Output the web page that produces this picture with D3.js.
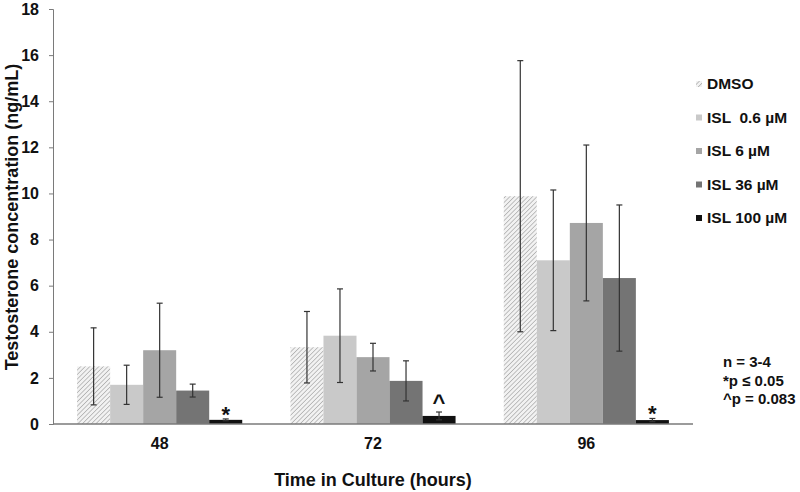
<!DOCTYPE html>
<html lang="en">
<head>
<meta charset="UTF-8">
<title>Testosterone concentration</title>
<script src="https://cdn.jsdelivr.net/npm/d3@7/dist/d3.min.js"></script>
<style>
    body { margin: 0; background: #fff; }
    text { font-family: "Liberation Sans", Arial, sans-serif; font-weight: bold; fill: #111; }
    .axis path, .axis line { stroke: #7a7a7a; }
</style>
</head>
<body>
<div id="diagram"></div>
<script>
var hours = ["48", "72", "96"];
var series = ["DMSO", "ISL  0.6 \u00b5M", "ISL 6 \u00b5M", "ISL 36 \u00b5M", "ISL 100 \u00b5M"];
var dmso   = [2.5, 3.33, 9.88];
var isl06  = [1.7, 3.83, 7.1];
var isl6   = [3.2, 2.9, 8.72];
var isl36  = [1.45, 1.87, 6.33];
var isl100 = [0.18, 0.35, 0.17];
var dmsoErr   = [1.67, 1.55, 5.88];
var isl06Err  = [0.85, 2.03, 3.05];
var isl6Err   = [2.04, 0.6, 3.38];
var isl36Err  = [0.28, 0.87, 3.17];
var isl100Err = [0.04, 0.17, 0.07];
var marks = ["*", "^", "*"];
var yTicks = [0, 2, 4, 6, 8, 10, 12, 14, 16, 18];
var notes = ["n = 3-4", "*p \u2264 0.05", "^p = 0.083"];

var values = [dmso, isl06, isl6, isl36, isl100];
var errs = [dmsoErr, isl06Err, isl6Err, isl36Err, isl100Err];
var colors = ["url(#hatch)", "#c9c9c9", "#a5a5a5", "#747474", "#111111"];

var width = 800, height = 492;
var plot = { left: 53, right: 693, top: 9, bottom: 424 };

var svg = d3.select("#diagram").append("svg")
    .attr("width", width).attr("height", height);

var pat = svg.append("defs").append("pattern")
    .attr("id", "hatch")
    .attr("patternUnits", "userSpaceOnUse")
    .attr("width", 3.2).attr("height", 3.2)
    .attr("patternTransform", "rotate(45)");
pat.append("rect").attr("width", 3.2).attr("height", 3.2).attr("fill", "#f2f2f2");
pat.append("line").attr("x1", 0).attr("y1", 0).attr("x2", 0).attr("y2", 3.2)
    .attr("stroke", "#a9a9a9").attr("stroke-width", 1.4);

var x0 = d3.scaleBand().domain(hours).range([plot.left, plot.right]);
var x1 = d3.scaleBand().domain(d3.range(series.length))
    .range([0, x0.bandwidth()]).paddingInner(0).paddingOuter(0.73);
var y = d3.scaleLinear().domain([0, 18]).range([plot.bottom, plot.top]);

// y axis
var yAxis = svg.append("g").attr("class", "axis")
    .attr("transform", "translate(" + plot.left + ",0)")
    .call(d3.axisLeft(y).tickValues(yTicks).tickSize(4).tickPadding(10));
yAxis.selectAll("text").attr("font-size", 16).attr("fill", "#111");

// bars
var groups = svg.selectAll(".grp")
    .data(hours).enter().append("g")
    .attr("class", "grp")
    .attr("transform", function (d) { return "translate(" + x0(d) + ",0)"; });

groups.selectAll("rect")
    .data(function (d, gi) {
        return series.map(function (s, si) { return { si: si, v: values[si][gi], e: errs[si][gi] }; });
    })
    .enter().append("rect")
    .attr("x", function (d) { return x1(d.si); })
    .attr("width", x1.bandwidth())
    .attr("y", function (d) { return y(d.v); })
    .attr("height", function (d) { return y(0) - y(d.v); })
    .attr("fill", function (d) { return colors[d.si]; });

// error bars
var eb = groups.selectAll(".err")
    .data(function (d, gi) {
        return series.map(function (s, si) { return { si: si, v: values[si][gi], e: errs[si][gi] }; });
    })
    .enter().append("g").attr("class", "err")
    .attr("stroke", "#333").attr("stroke-width", 1.2);
eb.append("line")
    .attr("x1", function (d) { return x1(d.si) + x1.bandwidth() / 2; })
    .attr("x2", function (d) { return x1(d.si) + x1.bandwidth() / 2; })
    .attr("y1", function (d) { return y(d.v + d.e); })
    .attr("y2", function (d) { return y(Math.max(d.v - d.e, 0)); });
eb.selectAll(".cap")
    .data(function (d) { return [d.v + d.e, Math.max(d.v - d.e, 0)].map(function (t) { return { si: d.si, t: t }; }); })
    .enter().append("line")
    .attr("x1", function (d) { return x1(d.si) + x1.bandwidth() / 2 - 3; })
    .attr("x2", function (d) { return x1(d.si) + x1.bandwidth() / 2 + 3; })
    .attr("y1", function (d) { return y(d.t); })
    .attr("y2", function (d) { return y(d.t); });

// significance marks
groups.append("text")
    .attr("x", x1(4) + x1.bandwidth() / 2)
    .attr("y", function (d, gi) { return y(values[4][gi] + errs[4][gi]) - 4; })
    .attr("text-anchor", "middle")
    .attr("font-size", 22)
    .attr("dy", function (d, gi) { return marks[gi] == "*" ? "0.3em" : "0.1em"; })
    .text(function (d, gi) { return marks[gi]; });

// x axis
svg.append("line")
    .attr("x1", plot.left).attr("x2", plot.right)
    .attr("y1", y(0)).attr("y2", y(0))
    .attr("stroke", "#7a7a7a").attr("stroke-width", 1.3);
svg.selectAll(".xlab")
    .data(hours).enter().append("text")
    .attr("x", function (d) { return x0(d) + x0.bandwidth() / 2; })
    .attr("y", 449)
    .attr("text-anchor", "middle")
    .attr("font-size", 16)
    .text(function (d) { return d; });

// axis titles
svg.append("text")
    .attr("x", (plot.left + plot.right) / 2).attr("y", 486)
    .attr("text-anchor", "middle").attr("font-size", 18)
    .text("Time in Culture (hours)");
svg.append("text")
    .attr("transform", "translate(18,217) rotate(-90)")
    .attr("text-anchor", "middle").attr("font-size", 18)
    .text("Testosterone concentration (ng/mL)");

// legend
var leg = svg.selectAll(".leg")
    .data(series).enter().append("g")
    .attr("class", "leg")
    .attr("transform", function (d, i) { return "translate(696," + (84 + i * 33.5) + ")"; });
leg.append("rect")
    .attr("y", -3).attr("width", 6).attr("height", 6)
    .attr("fill", function (d, i) { return colors[i]; });
leg.append("text")
    .attr("x", 11).attr("dy", "0.35em")
    .attr("font-size", 15.5)
    .style("white-space", "pre")
    .text(function (d) { return d; });

// notes
svg.selectAll(".note")
    .data(notes).enter().append("text")
    .attr("x", 723)
    .attr("y", function (d, i) { return 362 + i * 18.3; })
    .attr("dy", "0.35em")
    .attr("font-size", 15)
    .text(function (d) { return d; });
</script>
</body>
</html>
